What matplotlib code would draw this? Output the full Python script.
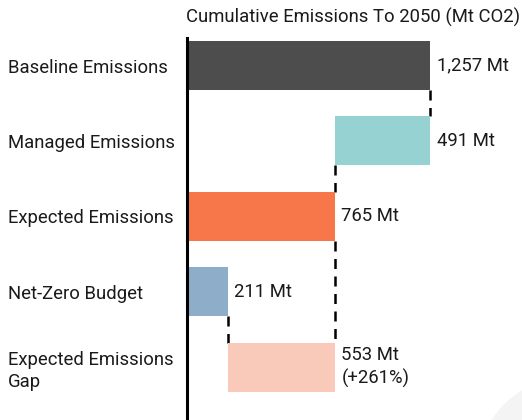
import matplotlib.pyplot as plt
from matplotlib.patches import Circle

plt.rcParams['font.family'] = ['Roboto', 'DejaVu Sans']

categories = ['Baseline Emissions', 'Managed Emissions', 'Expected Emissions',
              'Net-Zero Budget', 'Expected Emissions\nGap']
values = [1257, 491, 765, 211, 553]
value_labels = ['1,257 Mt', '491 Mt', '765 Mt', '211 Mt', '553 Mt\n(+261%)']
colors = ['#4d4d4d', '#96d2d2', '#f7774a', '#8eadc9', '#f9c9b9']

# waterfall: managed comes off the baseline, gap sits between budget and expected
starts = [0, values[0] - values[1], 0, 0, values[3]]
ends = [s + v for s, v in zip(starts, values)]

fig = plt.figure(figsize=(5.22, 4.2), dpi=100)
fig.add_artist(Circle((5.70, -0.5), 0.93, transform=fig.dpi_scale_trans,
                      facecolor='#f4f4f4', edgecolor='none', zorder=0))
ax = fig.add_axes([187 / 522, 0, 335 / 522, 382 / 420])
ax.set_facecolor('none')

y = list(range(len(categories)))
ax.barh(y, values, left=starts, height=0.65, color=colors, zorder=2)

for i, (e, lab) in enumerate(zip(ends, value_labels)):
    ax.text(e + 34, i, lab, va='center', ha='left', fontsize=13.3,
            color='#1a1a1a', linespacing=1.3)

# dashed connectors between consecutive bars
links = [(0, 1, ends[0]), (1, 2, starts[1]), (2, 4, ends[2]), (3, 4, ends[3])]
for a, b, xv in links:
    ax.plot([xv, xv], [a + 0.325, b - 0.325], color='black', lw=1.8,
            linestyle=(0, (4, 3)), zorder=1)

ax.set_xlim(0, 1733)
ax.set_ylim(4.70, -0.365)
ax.set_yticks(y)
ax.set_yticklabels(categories, fontsize=13.3, ha='left', color='#1a1a1a',
                   linespacing=1.3)
ax.tick_params(axis='y', length=0, pad=129)
ax.set_xticks([])
for s in ['top', 'right', 'bottom']:
    ax.spines[s].set_visible(False)
ax.spines['left'].set_linewidth(2.2)
ax.spines['left'].set_color('black')

fig.text(353 / 522, 1 - 17 / 420, 'Cumulative Emissions To 2050 (Mt CO2)',
         ha='center', va='center', fontsize=13.3, color='#1a1a1a')

fig.savefig('out.png', dpi=100)
